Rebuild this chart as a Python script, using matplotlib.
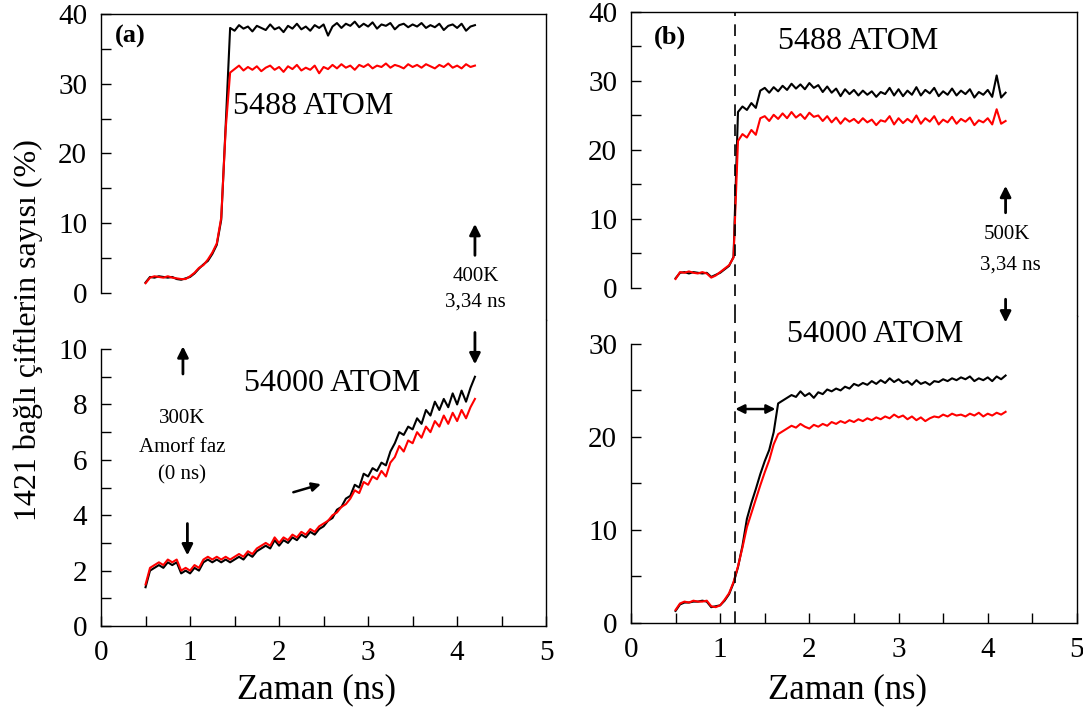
import numpy as np
import matplotlib
matplotlib.use("Agg")
import matplotlib.pyplot as plt

plt.rcParams['font.family'] = ['Liberation Serif', 'DejaVu Serif']

# time axis (ns), shared by all series
zaman = np.round(np.arange(0.50, 4.2001, 0.05), 2)

# (a) 5488 atom
a_kucuk_siyah = [1.5, 2.3, 2.2, 2.4, 2.3, 2.2, 2.3, 2.0, 1.9, 2.1,
                 2.3, 2.8, 3.5, 4.1, 4.6, 5.6, 6.9, 10.5, 24.0, 38.0,
                 37.6, 38.4, 37.9, 38.2, 37.5, 38.3, 38.0, 37.7, 38.5, 37.8,
                 38.1, 37.4, 38.3, 37.9, 38.6, 37.8, 38.2, 37.6, 38.4, 38.0,
                 38.5, 36.9, 38.2, 38.7, 38.0, 38.6, 38.3, 38.9, 38.1, 38.6,
                 38.2, 38.8, 37.9, 38.5, 38.3, 38.7, 37.8, 38.4, 38.6, 38.1,
                 38.5, 38.2, 38.7, 38.0, 38.4, 38.1, 38.6, 37.7, 38.3, 38.5,
                 38.0, 38.6, 37.6, 38.2, 38.4]
a_kucuk_kirmizi = [1.4, 2.2, 2.4, 2.3, 2.2, 2.4, 2.2, 2.1, 2.0, 2.0,
                   2.4, 2.9, 3.6, 4.0, 4.8, 5.8, 7.1, 10.8, 23.5, 31.6,
                   32.1, 32.6, 31.9, 32.4, 32.0, 32.5, 31.8, 32.3, 32.6, 32.0,
                   32.4, 31.7, 32.5, 32.1, 32.7, 31.9, 32.3, 32.0, 32.6, 31.5,
                   32.4, 32.1, 32.7, 32.2, 32.8, 32.3, 32.6, 32.0, 32.7, 32.4,
                   32.8, 32.2, 32.6, 32.4, 32.9, 32.3, 32.7, 32.5, 32.2, 32.8,
                   32.4, 32.7, 32.3, 32.8, 32.5, 32.2, 32.7, 32.4, 32.9, 32.3,
                   32.6, 32.2, 32.8, 32.4, 32.6]

# (a) 54000 atom
a_buyuk_siyah = [1.4, 2.0, 2.1, 2.2, 2.1, 2.3, 2.2, 2.3, 1.9, 2.0,
                 1.9, 2.1, 2.0, 2.3, 2.4, 2.3, 2.4, 2.3, 2.4, 2.3,
                 2.4, 2.5, 2.4, 2.6, 2.5, 2.7, 2.8, 2.9, 2.8, 3.1,
                 2.9, 3.1, 3.0, 3.2, 3.1, 3.3, 3.2, 3.4, 3.3, 3.5,
                 3.6, 3.8, 3.9, 4.2, 4.3, 4.6, 4.7, 5.1, 5.0, 5.5,
                 5.4, 5.7, 5.6, 5.9, 5.8, 6.3, 6.6, 7.0, 6.9, 7.2,
                 7.1, 7.5, 7.3, 7.8, 7.6, 8.1, 7.8, 8.2, 7.9, 8.4,
                 8.0, 8.5, 8.1, 8.6, 9.0]
a_buyuk_kirmizi = [1.5, 2.1, 2.2, 2.3, 2.2, 2.4, 2.3, 2.4, 2.0, 2.1,
                   2.0, 2.2, 2.1, 2.4, 2.5, 2.4, 2.5, 2.4, 2.5, 2.4,
                   2.5, 2.6, 2.5, 2.7, 2.6, 2.8, 2.9, 3.0, 2.9, 3.2,
                   3.0, 3.2, 3.1, 3.3, 3.2, 3.4, 3.3, 3.5, 3.4, 3.6,
                   3.7, 3.8, 4.0, 4.1, 4.3, 4.4, 4.6, 4.9, 4.8, 5.2,
                   5.1, 5.4, 5.3, 5.6, 5.4, 5.9, 6.1, 6.5, 6.3, 6.7,
                   6.6, 7.0, 6.8, 7.2, 7.0, 7.4, 7.2, 7.6, 7.3, 7.7,
                   7.4, 7.8, 7.5, 7.9, 8.2]

# (b) 5488 atom
b_kucuk_siyah = [1.4, 2.2, 2.3, 2.1, 2.3, 2.2, 2.1, 2.2, 1.6, 1.9,
                 2.2, 2.7, 3.2, 4.5, 25.5, 26.3, 25.8, 26.8, 26.1, 28.6,
                 29.0, 28.3, 29.1, 28.5, 29.3, 28.7, 29.6, 28.9, 29.5, 28.8,
                 29.7, 29.0, 29.4, 28.4, 29.2, 28.3, 28.9, 27.8, 28.8, 28.1,
                 28.7, 27.9, 28.6, 28.0, 28.5, 27.7, 28.4, 28.1, 29.0, 27.9,
                 28.8, 27.8, 28.6, 28.0, 29.1, 27.9, 28.7, 28.2, 29.0, 27.8,
                 28.5, 28.0, 28.9, 27.9, 28.6, 28.1, 28.8, 27.6, 28.4, 28.0,
                 28.7, 27.7, 30.8, 27.6, 28.3]
b_kucuk_kirmizi = [1.3, 2.3, 2.2, 2.4, 2.2, 2.1, 2.3, 2.1, 1.5, 1.8,
                   2.3, 2.8, 3.3, 4.4, 21.3, 22.3, 21.8, 22.9, 22.2, 24.6,
                   24.9, 24.2, 25.1, 24.5, 25.3, 24.6, 25.5, 24.7, 25.2, 24.5,
                   25.4, 24.8, 25.0, 24.2, 24.9, 24.0, 24.7, 23.8, 24.6, 24.1,
                   24.5, 23.9, 24.6, 24.0, 24.4, 23.6, 24.3, 24.1, 24.9, 23.7,
                   24.6, 23.9, 24.5, 24.0, 25.0, 23.8, 24.6, 24.1, 24.9, 23.7,
                   24.4, 24.0, 24.8, 23.8, 24.5, 24.1, 24.7, 23.6, 24.3, 24.0,
                   24.6, 23.7, 25.9, 23.8, 24.2]

# (b) 54000 atom
b_buyuk_siyah = [1.3, 2.0, 2.2, 2.2, 2.3, 2.3, 2.4, 2.3, 1.7, 1.8,
                 1.9, 2.4, 3.1, 4.3, 6.0, 8.3, 11.2, 12.9, 14.4, 16.0,
                 17.4, 18.6, 20.5, 23.6, 23.9, 24.2, 24.5, 24.3, 24.9, 24.4,
                 24.7, 24.2, 24.8, 24.6, 25.1, 24.9, 25.2, 25.0, 25.4, 25.2,
                 25.7, 25.5, 25.8, 25.6, 26.0, 25.7, 26.1, 25.8, 26.3, 25.9,
                 26.2, 25.8, 26.0, 25.6, 26.1, 25.7, 25.9, 25.6, 26.0, 25.9,
                 26.2, 26.0, 26.3, 26.1, 26.4, 26.2, 26.5, 26.0, 26.3, 26.1,
                 26.4, 26.0, 26.5, 26.2, 26.6]
b_buyuk_kirmizi = [1.4, 2.1, 2.3, 2.2, 2.4, 2.3, 2.3, 2.4, 1.8, 1.7,
                   1.9, 2.5, 3.2, 4.4, 6.1, 8.1, 10.3, 11.8, 13.3, 14.8,
                   16.2, 17.5, 19.2, 20.3, 20.6, 20.9, 21.2, 21.0, 21.4, 21.1,
                   20.9, 21.3, 21.1, 21.4, 21.2, 21.6, 21.4, 21.7, 21.5, 21.8,
                   21.6, 21.9, 21.7, 22.0, 21.8, 22.1, 21.9, 22.2, 22.0, 22.4,
                   22.1, 22.3, 21.9, 22.2, 21.8, 22.1, 21.7, 22.0, 22.2, 22.1,
                   22.4, 22.2, 22.5, 22.3, 22.4, 22.2, 22.5, 22.3, 22.6, 22.2,
                   22.5, 22.3, 22.6, 22.4, 22.7]

KIRMIZI = '#ff0000'
TICK_FS = 21


def setup(ax, ust, yticks, yminor, ymax_bound, ylim):
    ax.set_xlim(0, 5)
    ax.set_ylim(*ylim)
    ax.set_yticks(yticks)
    ax.set_yticks(yminor, minor=True)
    ax.spines['left'].set_bounds(0, ymax_bound)
    for s in ax.spines.values():
        s.set_linewidth(1.0)
    ax.tick_params(axis='y', which='both', direction='in', length=7, width=1.0,
                   labelsize=TICK_FS, pad=10, right=False)
    if ust:
        ax.spines['bottom'].set_visible(False)
        ax.tick_params(axis='x', which='both', bottom=False, top=False,
                       labelbottom=False)
    else:
        ax.spines['top'].set_visible(False)
        ax.set_xticks([0, 1, 2, 3, 4, 5])
        ax.set_xticks([0.5, 1.5, 2.5, 3.5, 4.5], minor=True)
        ax.tick_params(axis='x', which='both', direction='in', length=7,
                       width=1.0, labelsize=TICK_FS, pad=10, top=False)


def ok(ax, bas, kuyruk, lw=2.0, ms=16):
    ax.annotate('', xy=bas, xytext=kuyruk, annotation_clip=False,
                arrowprops=dict(arrowstyle='-|>', lw=lw, color='black',
                                mutation_scale=ms, shrinkA=0, shrinkB=0))


fig = plt.figure(figsize=(10.83, 7.17), dpi=100)

ax1 = fig.add_axes([0.0933, 0.5537, 0.411, 0.4268])
ax2 = fig.add_axes([0.0933, 0.1269, 0.411, 0.4268])
ax3 = fig.add_axes([0.5826, 0.5593, 0.4118, 0.4240])
ax4 = fig.add_axes([0.5826, 0.1311, 0.4118, 0.4282])

setup(ax1, True, [0, 10, 20, 30, 40], [5, 15, 25, 35], 40, (-3.87, 40))
setup(ax2, False, [0, 2, 4, 6, 8, 10], [1, 3, 5, 7, 9], 10, (0, 11.05))
setup(ax3, True, [0, 10, 20, 30, 40], [5, 15, 25, 35], 40, (-4.06, 40))
setup(ax4, False, [0, 10, 20, 30], [5, 15, 25], 30, (0, 33.0))

for ax, siyah, kirmizi in [(ax1, a_kucuk_siyah, a_kucuk_kirmizi),
                           (ax2, a_buyuk_siyah, a_buyuk_kirmizi),
                           (ax3, b_kucuk_siyah, b_kucuk_kirmizi),
                           (ax4, b_buyuk_siyah, b_buyuk_kirmizi)]:
    ax.plot(zaman, siyah, color='black', lw=1.5)
    ax.plot(zaman, kirmizi, color=KIRMIZI, lw=1.5)

# panel (a) texts
ax1.text(0.33, 36.8, '(a)', fontsize=19, fontweight='bold', ha='center', va='center')
ax1.text(1.48, 26.7, '5488 ATOM', fontsize=23, ha='left', va='center')
ok(ax1, (4.2, 9.9), (4.2, 5.4))
ax1.text(4.21, 2.3, '400K', fontsize=15, ha='center', va='center')
ax1.text(4.2, -1.3, '3,34 ns', fontsize=15, ha='center', va='center', clip_on=False)

ok(ax2, (4.2, 9.45), (4.2, 10.6))
ax2.text(2.6, 8.77, '54000 ATOM', fontsize=23, ha='center', va='center')
ok(ax2, (0.92, 10.1), (0.92, 9.1))
ax2.text(0.91, 7.5, '300K', fontsize=15, ha='center', va='center')
ax2.text(0.91, 6.45, 'Amorf faz', fontsize=15, ha='center', va='center')
ax2.text(0.91, 5.45, '(0 ns)', fontsize=15, ha='center', va='center')
ok(ax2, (0.97, 2.55), (0.97, 3.7))
ok(ax2, (2.47, 5.12), (2.16, 4.83), lw=1.8, ms=13)

# panel (b) texts
for ax in (ax3, ax4):
    ax.axvline(1.17, color='black', lw=1.2, ls=(0, (7, 5)))
ax3.text(0.44, 36.4, '(b)', fontsize=19, fontweight='bold', ha='center', va='center')
ax3.text(2.55, 35.7, '5488 ATOM', fontsize=23, ha='center', va='center')
ok(ax3, (4.2, 14.8), (4.2, 10.9))
ax3.text(4.22, 7.7, '500K', fontsize=15, ha='center', va='center')
ax3.text(4.25, 3.3, '3,34 ns', fontsize=15, ha='center', va='center')
ok(ax4, (4.2, 32.3), (4.2, 34.8))
ax4.text(2.74, 30.97, '54000 ATOM', fontsize=23, ha='center', va='center')
ax4.annotate('', xy=(1.62, 23.0), xytext=(1.17, 23.0),
             arrowprops=dict(arrowstyle='<|-|>', lw=1.8, color='black',
                             mutation_scale=13, shrinkA=0, shrinkB=0))

ax2.set_xlabel('Zaman (ns)', fontsize=25)
ax4.set_xlabel('Zaman (ns)', fontsize=25)
ax2.xaxis.set_label_coords(0.485, -0.155)
ax4.xaxis.set_label_coords(0.485, -0.165)
fig.text(0.026, 0.54, '1421 bağlı çiftlerin sayısı (%)', fontsize=23,
         rotation=90, ha='center', va='center')

fig.savefig('out.png', dpi=100)
